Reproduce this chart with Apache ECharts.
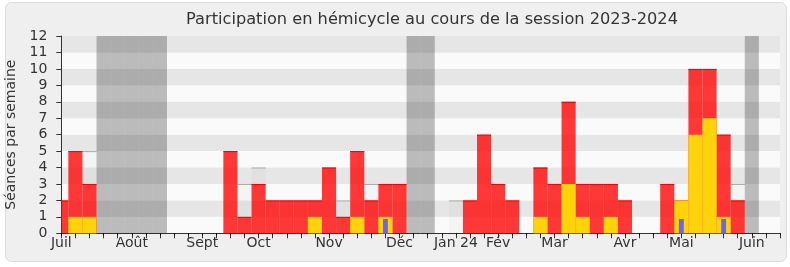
<!DOCTYPE html>
<html><head><meta charset="utf-8">
<script src="https://cdn.jsdelivr.net/npm/echarts@6/dist/echarts.min.js"></script>
<style>html,body{margin:0;padding:0;background:#fff}#c{width:790px;height:267px}</style>
</head><body><div id="c"></div>
<script>
// Week index 0..51 (July 2023 -> June 2024)
var weeks = [];
for (var i = 0; i < 52; i++) weeks.push(i);
var presence = [2,5,3,0,0,0,0,0,0,0,0,0,5,1,3,2,2,2,2,4,1,5,2,3,3,0,0,0,0,2,6,3,2,0,4,3,8,3,3,3,2,0,0,3,2,10,10,6,2,0,0,0];
var interventions = [0,1,1,0,0,0,0,0,0,0,0,0,0,0,0,0,0,0,1,0,0,1,0,1,0,0,0,0,0,0,0,0,0,0,1,0,3,1,0,1,0,0,0,0,2,6,7,1,0,0,0,0];
var questions = [0,0,0,0,0,0,0,0,0,0,0,0,0,0,0,0,0,0,0,0,0,0,0,0.87,0,0,0,0,0,0,0,0,0,0,0,0,0,0,0,0,0,0,0,0,0.87,0,0,0.87,0,0,0,0];
var totalSeances = [null,null,5,null,null,null,null,null,null,null,null,null,null,3,4,null,null,null,null,null,2,null,3,null,null,null,null,null,2,null,null,null,null,null,null,null,null,null,null,null,null,null,null,null,null,null,null,null,3,null,null,null];
var vacances = [3,4,5,6,7,25,26,49];
var monthWeeks = [0,5,10,14,19,24,28,31,35,40,44,49];
var monthNames = ['Juil','Août','Sept','Oct','Nov','Déc','Jan 24','Fév','Mar','Avr','Mai','Juin'];

function pairs(arr){ var out=[]; for (var i=0;i<arr.length;i++){ if(arr[i]!==null && arr[i]>0) out.push([weeks[i], arr[i]]); } return out; }

function barRenderer(fill, topStroke, widthFrac){
  return function(params, api){
    var x = api.value(0), v = api.value(1);
    var hw = widthFrac/2;
    var p0 = api.coord([x - hw, v]);
    var p1 = api.coord([x + hw, 0]);
    var rect = echarts.graphic.clipRectByRect({x:p0[0], y:p0[1], width:p1[0]-p0[0], height:p1[1]-p0[1]}, params.coordSys);
    if (!rect) return;
    var children = [{type:'rect', shape:rect, style:{fill:fill}}];
    if (topStroke) children.push({type:'line', shape:{x1:rect.x, y1:rect.y+0.5, x2:rect.x+rect.width, y2:rect.y+0.5}, style:{stroke:topStroke, lineWidth:1}});
    return {type:'group', children:children};
  };
}

var chart = echarts.init(document.getElementById('c'), null, {renderer:'canvas'});
var FONT = 'DejaVu Sans';
var vacData = vacances.map(function(k){ return [k, 12]; });

chart.setOption({
  backgroundColor:'#ffffff',
  animation:false,
  graphic:[{type:'rect', z:-10, shape:{x:5.5, y:2.5, width:781, height:259, r:6}, style:{fill:'#efefef', stroke:'#dcdcdc', lineWidth:1}}],
  title:{text:'Participation en hémicycle au cours de la session 2023-2024', left:427, textAlign:'center', top:7,
    textStyle:{fontFamily:FONT, fontSize:16.2, fontWeight:'normal', color:'#333'}},
  grid:{left:61.3, right:10, top:36, bottom:33.7, containLabel:false, outerBoundsMode:'none'},
  xAxis:[{
    type:'value', min:0, max:51, interval:1, position:'bottom',
    axisLine:{show:true, onZero:false, lineStyle:{color:'#333', width:1}},
    axisTick:{show:true, length:5, lineStyle:{color:'#333'}},
    splitLine:{show:false},
    axisLabel:{show:true, margin:3, fontFamily:FONT, fontSize:14, color:'#333',
      formatter:function(v){ var i = monthWeeks.indexOf(Math.round(v)); return i>=0 ? monthNames[i] : ''; }}
  },{
    type:'value', min:0, max:51, interval:1, position:'top',
    axisLine:{show:false},
    axisTick:{show:true, inside:true, length:2, lineStyle:{color:'#000'}},
    axisLabel:{show:false}, splitLine:{show:false}
  }],
  yAxis:{
    type:'value', min:0, max:12, interval:1,
    name:'Séances par semaine', nameLocation:'middle', nameGap:40,
    nameTextStyle:{fontFamily:FONT, fontSize:14, color:'#333'},
    axisLine:{show:true, lineStyle:{color:'#333'}},
    axisTick:{show:true, length:5, lineStyle:{color:'#333'}},
    axisLabel:{margin:14, fontFamily:FONT, fontSize:14, color:'#333'},
    splitLine:{show:false},
    splitArea:{show:true, areaStyle:{color:['#fafafa','#e6e6e6']}}
  },
  series:[
    {type:'custom', name:'total', data:pairs(totalSeances), renderItem:barRenderer('rgba(0,0,0,0.025)','#aaaaaa',1), z:2},
    {type:'custom', name:'presence', data:pairs(presence), renderItem:barRenderer('rgba(255,0,0,0.78)','rgba(230,0,0,0.9)',1), z:3},
    {type:'custom', name:'interventions', data:pairs(interventions), renderItem:barRenderer('#ffd30a',null,1), z:4},
    {type:'custom', name:'questions', data:pairs(questions), renderItem:barRenderer('#6666ff',null,0.35), z:5},
    {type:'custom', name:'vacances', data:vacData, renderItem:barRenderer('rgba(0,0,0,0.25)',null,1), z:6}
  ]
});
</script></body></html>
